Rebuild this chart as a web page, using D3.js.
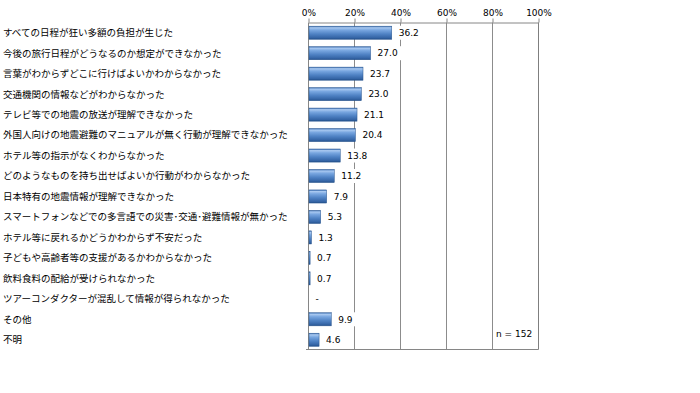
<!DOCTYPE html>
<html><head><meta charset="utf-8">
<script src="https://cdn.jsdelivr.net/npm/d3@7"></script>
<style>body{margin:0;background:#fff}svg{display:block}</style>
</head><body>
<svg id="c" width="700" height="393"></svg>
<script>
const categories = [
 "すべての日程が狂い多額の負担が生じた",
 "今後の旅行日程がどうなるのか想定ができなかった",
 "言葉がわからずどこに行けばよいかわからなかった",
 "交通機関の情報などがわからなかった",
 "テレビ等での地震の放送が理解できなかった",
 "外国人向けの地震避難のマニュアルが無く行動が理解できなかった",
 "ホテル等の指示がなくわからなかった",
 "どのようなものを持ち出せばよいか行動がわからなかった",
 "日本特有の地震情報が理解できなかった",
 "スマートフォンなどでの多言語での災害･交通･避難情報が無かった",
 "ホテル等に戻れるかどうかわからず不安だった",
 "子どもや高齢者等の支援があるかわからなかった",
 "飲料食料の配給が受けられなかった",
 "ツアーコンダクターが混乱して情報が得られなかった",
 "その他",
 "不明"
];
const values = [36.2, 27.0, 23.7, 23.0, 21.1, 20.4, 13.8, 11.2, 7.9, 5.3, 1.3, 0.7, 0.7, 0, 9.9, 4.6];
const valueLabels = ["36.2","27.0","23.7","23.0","21.1","20.4","13.8","11.2","7.9","5.3","1.3","0.7","0.7","-","9.9","4.6"];
const tickValues = [0, 20, 40, 60, 80, 100];
const noteText = "n = 152";

const svg = d3.select("#c");
const x = d3.scaleLinear().domain([0, 100]).range([308.5, 538.5]);
const y = d3.scaleBand().domain(categories).range([22.5, 350]).paddingInner(0.36).paddingOuter(0.18);

const defs = svg.append("defs");
const g = defs.append("linearGradient").attr("id","bar").attr("x1",0).attr("y1",0).attr("x2",0).attr("y2",1);
[[0,"#3d70b3"],[0.12,"#a8c8f0"],[0.3,"#78a6e0"],[0.6,"#4f82c4"],[0.88,"#3565a6"],[1,"#24508a"]]
 .forEach(([o,c])=>g.append("stop").attr("offset",o).attr("stop-color",c));

// gridlines
svg.append("g").selectAll("line").data(tickValues.slice(1)).join("line")
 .attr("x1",d=>x(d)).attr("x2",d=>x(d)).attr("y1",22.5).attr("y2",349.5)
 .attr("stroke",d=>d===100?"#7f7f7f":"#8c8c8c").attr("stroke-width",1);

// top axis
const ax = svg.append("g").attr("transform","translate(0,22.5)")
 .call(d3.axisTop(x).tickValues(tickValues).tickFormat(d=>d+"%").tickSize(4).tickSizeOuter(0));
ax.select(".domain").attr("stroke","#868686");
ax.selectAll(".tick line").attr("stroke","#868686");
ax.selectAll(".tick text").attr("font-family","DejaVu Sans, Verdana, sans-serif").attr("font-size","9px").attr("fill","#000").attr("dy","-0.25em").attr("y",-4);

// left axis & bottom line
svg.append("line").attr("x1",308.5).attr("x2",308.5).attr("y1",22.5).attr("y2",349.5).attr("stroke","#868686");
svg.append("line").attr("x1",306).attr("x2",538.5).attr("y1",349.5).attr("y2",349.5).attr("stroke","#868686");

// bars
svg.append("g").selectAll("rect").data(values).join("rect")
 .attr("x",x(0)+0.5).attr("y",(d,i)=>y(categories[i]))
 .attr("width",d=>Math.max(0,x(d)-x(0)-0.5)).attr("height",y.bandwidth())
 .attr("fill","url(#bar)").attr("stroke","#2a5790").attr("stroke-width",d=>d>0?0.5:0);

// value labels with white backgrounds
const lab = svg.append("g");
values.forEach((v,i)=>{
  const cy = y(categories[i]) + y.bandwidth()/2;
  const tx = x(v) + 7;
  const t = lab.append("text").attr("x",tx).attr("y",cy).attr("dy","0.36em")
    .attr("font-family","DejaVu Sans, Verdana, sans-serif").attr("font-size","9px").attr("fill","#000")
    .text(valueLabels[i]);
  const w = t.node().getComputedTextLength();
  lab.insert("rect", () => t.node()).attr("x",tx-3).attr("y",cy-7).attr("width",w+7).attr("height",14).attr("fill","#fff");
});

// category labels
svg.append("g").selectAll("text").data(categories).join("text")
 .attr("x",3).attr("y",d=>y(d)+y.bandwidth()/2).attr("dy","0.36em")
 .attr("font-family","Noto Sans CJK JP, sans-serif").attr("font-size","9.5px").attr("fill","#000")
 .text(d=>d);

// note
svg.append("text").attr("x",496).attr("y",y(categories[15])+y.bandwidth()/2-6).attr("dy","0.36em")
 .attr("font-family","DejaVu Sans, Verdana, sans-serif").attr("font-size","9px").attr("fill","#000").text(noteText);
</script>
</body></html>
